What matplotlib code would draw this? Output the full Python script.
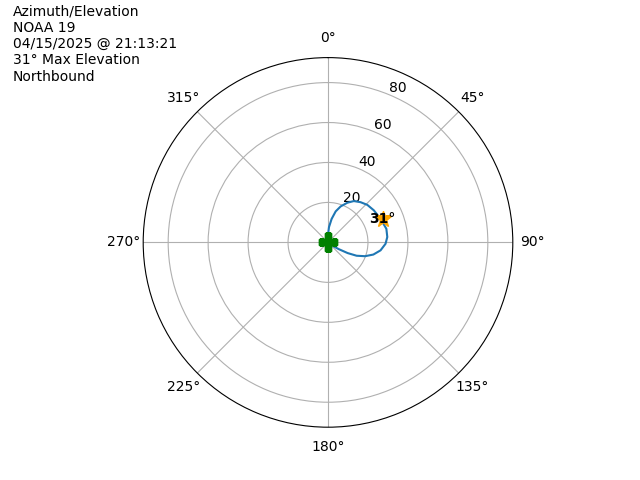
import numpy as np
import matplotlib
matplotlib.use("Agg")
import matplotlib.pyplot as plt

# Pass track: azimuth (deg) and elevation (deg)
azimuth = [0, 0, 3.7, 8.8, 13.9, 19.4, 26, 32, 39, 46.3, 55, 65.8, 76.9, 84.8,
           91.4, 98.6, 105, 110.4, 115, 118.5, 122, 125, 125]
elevation = [0, 3.8, 7.7, 11.9, 16, 19.1, 22.1, 24.4, 25.9, 27.2, 28, 28.8, 30,
             29.8, 28.8, 26.6, 23.5, 19.8, 15.8, 11.2, 6.4, 3.4, 0]

max_az = 67
max_el = 31
endpoints_az = [0, 125]
endpoints_el = [0, 0]

title_lines = ["Azimuth/Elevation", "NOAA 19", "04/15/2025 @ 21:13:21",
               "31\u00b0 Max Elevation", "Northbound"]

fig = plt.figure(figsize=(6.4, 4.8), dpi=100)
ax = fig.add_subplot(111, projection="polar")
ax.set_theta_zero_location("N")
ax.set_theta_direction(-1)

ax.plot(np.radians(azimuth), elevation, color="C0", lw=1.5)
ax.plot(np.radians(endpoints_az), endpoints_el, "P", color="green", ms=13, ls="none")
ax.plot(np.radians([max_az]), [29.8], "*", color="orange", ms=12)
ax.text(np.radians(max_az), 29.8, f"{max_el}\u00b0", ha="center", va="center",
        fontsize=10, fontweight="bold", color="black")

ax.set_ylim(0, 92.5)
ax.set_yticks([0, 20, 40, 60, 80])
ax.set_yticklabels(["", "20", "40", "60", "80"])

fig.text(0.02, 0.99, "\n".join(title_lines), ha="left", va="top", fontsize=10)

fig.savefig("out.png", dpi=100)
